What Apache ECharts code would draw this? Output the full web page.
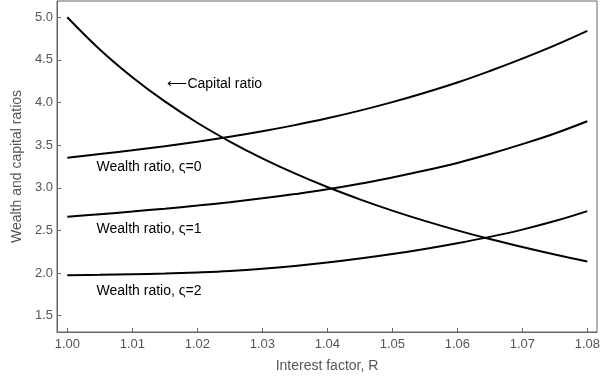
<!DOCTYPE html>
<html>
<head>
<meta charset="utf-8">
<script src="https://cdn.jsdelivr.net/npm/echarts@6/dist/echarts.min.js"></script>
<style>
html,body{margin:0;padding:0;background:#fff;}
#chart{width:612px;height:378px;}
</style>
</head>
<body>
<div id="chart"></div>
<script>
// Interest factor R (x values)
const rValues = [1.000,1.005,1.010,1.015,1.020,1.025,1.030,1.035,1.040,1.045,1.050,1.055,1.060,1.065,1.070,1.075,1.080];
// Capital ratio
const capitalRatio = [5.000,4.622,4.297,4.013,3.763,3.543,3.346,3.169,3.009,2.865,2.733,2.612,2.501,2.399,2.305,2.217,2.136];
// Wealth ratio, ς=0
const wealth0 = [3.352,3.396,3.441,3.488,3.540,3.598,3.663,3.735,3.815,3.905,4.005,4.115,4.235,4.370,4.515,4.670,4.840];
// Wealth ratio, ς=1
const wealth1 = [2.662,2.691,2.722,2.756,2.792,2.832,2.877,2.927,2.982,3.047,3.122,3.202,3.292,3.397,3.512,3.637,3.780];
// Wealth ratio, ς=2
const wealth2 = [1.976,1.980,1.986,1.995,2.008,2.025,2.050,2.083,2.123,2.170,2.223,2.283,2.350,2.425,2.510,2.610,2.727];

// Annotation texts and their anchor (left, middle) in data coordinates
const annoTexts = ['\u27F5Capital ratio','Wealth ratio, \u03C2=0','Wealth ratio, \u03C2=1','Wealth ratio, \u03C2=2'];
const annoX = [1.0154,1.0045,1.0045,1.0045];
const annoY = [4.22,3.246,2.513,1.792];

const xName = 'Interest factor, R';
const yName = 'Wealth and capital ratios';

const FONT = "'Liberation Sans', Arial, Helvetica, sans-serif";
const AXC = '#666666';
const TXC = '#555555';

function pairs(ys){ return rValues.map((x,i)=>[x, ys[i]]); }
function lineSeries(name, ys){
  return {
    name, type:'line', data: pairs(ys), smooth:0.4, showSymbol:false, symbol:'none',
    lineStyle:{color:'#000', width:2}, silent:true, animation:false, z:3
  };
}

const chart = echarts.init(document.getElementById('chart'), null, {renderer:'canvas'});
const option = {
  animation:false,
  backgroundColor:'#fff',
  grid:{left:57, right:15, top:1, bottom:45, show:true, borderColor:AXC, borderWidth:1, backgroundColor:'transparent'},
  xAxis:{
    type:'value', min:0.998415, max:1.081492, splitNumber:8,
    name:xName, nameLocation:'middle', nameGap:27,
    nameTextStyle:{fontFamily:FONT, fontSize:14, color:TXC},
    axisLine:{show:true, lineStyle:{color:AXC, width:1}},
    axisTick:{show:true, inside:true, length:4, lineStyle:{color:AXC}},
    splitLine:{show:false},
    axisLabel:{fontFamily:FONT, fontSize:13, color:TXC, margin:6, showMinLabel:false, showMaxLabel:false,
      formatter:v=>{ const k=Math.round(v*100); return Math.abs(v*100-k)<1e-6 ? (k/100).toFixed(2) : ''; }}
  },
  yAxis:{
    type:'value', min:1.3094, max:5.1906, splitNumber:7,
    name:yName, nameLocation:'middle', nameGap:28, nameRotate:90,
    nameTextStyle:{fontFamily:FONT, fontSize:14, color:TXC},
    axisLine:{show:true, lineStyle:{color:AXC, width:1}},
    axisTick:{show:true, inside:true, length:4, lineStyle:{color:AXC}},
    splitLine:{show:false},
    axisLabel:{fontFamily:FONT, fontSize:13, color:TXC, margin:4, showMinLabel:false, showMaxLabel:false,
      formatter:v=>{ const k=Math.round(v*2); return Math.abs(v*2-k)<1e-6 ? (k/2).toFixed(1) : ''; }}
  },
  series:[
    lineSeries('Capital ratio', capitalRatio),
    lineSeries('Wealth ratio, ς=0', wealth0),
    lineSeries('Wealth ratio, ς=1', wealth1),
    lineSeries('Wealth ratio, ς=2', wealth2)
  ]
};
chart.setOption(option);

const graphics = annoTexts.map((t,i)=>{
  const p = chart.convertToPixel({gridIndex:0}, [annoX[i], annoY[i]]);
  return {type:'text', x:p[0], y:p[1], silent:true, z:10,
    style:{text:t, fill:'#000', font:'14px '+FONT, textAlign:'left', textVerticalAlign:'middle'}};
});
chart.setOption({graphic:graphics});
</script>
</body>
</html>
